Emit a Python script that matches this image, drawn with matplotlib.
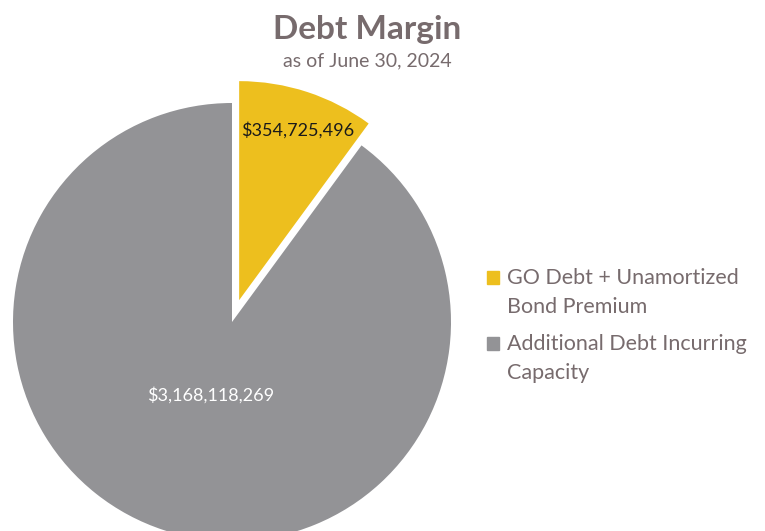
import matplotlib
matplotlib.use("Agg")
import matplotlib.pyplot as plt
from matplotlib.patches import Rectangle

categories = ["GO Debt + Unamortized\nBond Premium", "Additional Debt Incurring\nCapacity"]
values = [354725496, 3168118269]
value_labels = ["$354,725,496", "$3,168,118,269"]
colors = ["#EDBF1E", "#939396"]
text_color = "#776B6D"

plt.rcParams['font.family'] = ['Lato', 'DejaVu Sans']

W, H = 765, 531
fig = plt.figure(figsize=(W / 100, H / 100), dpi=100)
ax = fig.add_axes([0, 0, 1, 1])

cx, cy, R = 232, H - 322, 219
wedges, _ = ax.pie(values, colors=colors, startangle=90, counterclock=False,
                   explode=[23, 0], center=(cx, cy), radius=R,
                   wedgeprops=dict(linewidth=0))
ax.set_xlim(0, W)
ax.set_ylim(0, H)
ax.set_aspect("equal")
ax.axis("off")

# value labels
ax.text(298, H - 130, value_labels[0], ha="center", va="center", fontsize=13, color="#1a1a1a")
ax.text(211, H - 395, value_labels[1], ha="center", va="center", fontsize=13, color="white")

# title
fig.text(367 / W, 1 - 29 / H, "Debt Margin", ha="center", va="center", fontsize=24,
         fontweight="bold", color=text_color)
fig.text(367 / W, 1 - 61 / H, "as of June 30, 2024", ha="center", va="center",
         fontsize=14, color=text_color)

# legend
y0 = [277, 343]
for lab, col, y in zip(categories, colors, y0):
    ax.add_patch(Rectangle((487, H - y - 6.5), 12, 13, color=col))
    ax.text(507, H - y + 9, lab, ha="left", va="top", fontsize=15.5, color=text_color,
            linespacing=1.55)

fig.savefig("out.png", dpi=100)
